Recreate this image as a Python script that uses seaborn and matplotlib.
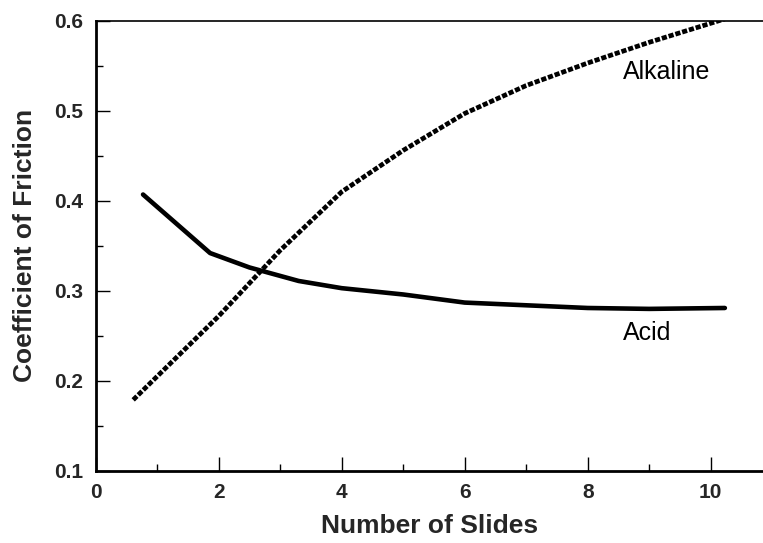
import matplotlib
matplotlib.use("Agg")
import matplotlib.pyplot as plt
import seaborn as sns
import pandas as pd
from matplotlib.ticker import MultipleLocator

# Data
acid_x = [0.77, 1.86, 2.5, 3.3, 4.0, 5.0, 6.0, 7.0, 8.0, 9.0, 10.23]
acid_y = [0.407, 0.342, 0.326, 0.311, 0.303, 0.296, 0.287, 0.284, 0.281, 0.280, 0.281]
alk_x = [0.61, 2.0, 3.0, 4.0, 5.0, 6.0, 7.0, 8.0, 9.0, 10.23]
alk_y = [0.179, 0.272, 0.345, 0.410, 0.456, 0.497, 0.528, 0.553, 0.576, 0.602]
x_ticks = [0, 2, 4, 6, 8, 10]
y_ticks = [0.1, 0.2, 0.3, 0.4, 0.5, 0.6]
x_label = "Number of Slides"
y_label = "Coefficient of Friction"

sns.set_theme(style="white")
plt.rcParams["font.family"] = ["Liberation Sans", "DejaVu Sans"]

acid = pd.DataFrame({"x": acid_x, "y": acid_y})
alk = pd.DataFrame({"x": alk_x, "y": alk_y})

fig = plt.figure(figsize=(7.63, 5.43), dpi=100)
ax = fig.add_axes([0.1254, 0.1326, 0.8746, 0.8293])

sns.lineplot(data=acid, x="x", y="y", ax=ax, color="black", linewidth=3.3,
             sort=False, estimator=None)
sns.lineplot(data=alk, x="x", y="y", ax=ax, color="black", linewidth=3.4,
             sort=False, estimator=None, linestyle=(0, (1.1, 0.4)))

ax.set_xlim(0, 10.85)
ax.set_ylim(0.1, 0.6)
ax.set_xticks(x_ticks)
ax.set_xticklabels([str(t) for t in x_ticks])
ax.set_yticks(y_ticks)
ax.set_yticklabels([f"{t:.1f}" for t in y_ticks])
ax.xaxis.set_minor_locator(MultipleLocator(1))
ax.yaxis.set_minor_locator(MultipleLocator(0.05))

ax.tick_params(axis="both", which="major", direction="in", length=10, width=1.0,
               color="black", labelsize=15, pad=9, bottom=True, left=True)
ax.tick_params(axis="both", which="minor", direction="in", length=5, width=1.0,
               color="black", bottom=True, left=True)
for lab in ax.get_xticklabels() + ax.get_yticklabels():
    lab.set_fontweight("bold")

ax.set_xlabel(x_label, fontsize=19, fontweight="bold", labelpad=8)
ax.set_ylabel(y_label, fontsize=19, fontweight="bold", labelpad=12)

ax.spines["right"].set_visible(False)
ax.spines["left"].set_linewidth(2.0)
ax.spines["bottom"].set_linewidth(2.0)
ax.spines["top"].set_linewidth(1.2)
for s in ["left", "bottom", "top"]:
    ax.spines[s].set_color("black")

ax.text(9.28, 0.543, "Alkaline", fontsize=18, ha="center", va="center", color="black")
ax.text(8.96, 0.253, "Acid", fontsize=18, ha="center", va="center", color="black")

ax.grid(False)
fig.savefig("out.png", dpi=100)
